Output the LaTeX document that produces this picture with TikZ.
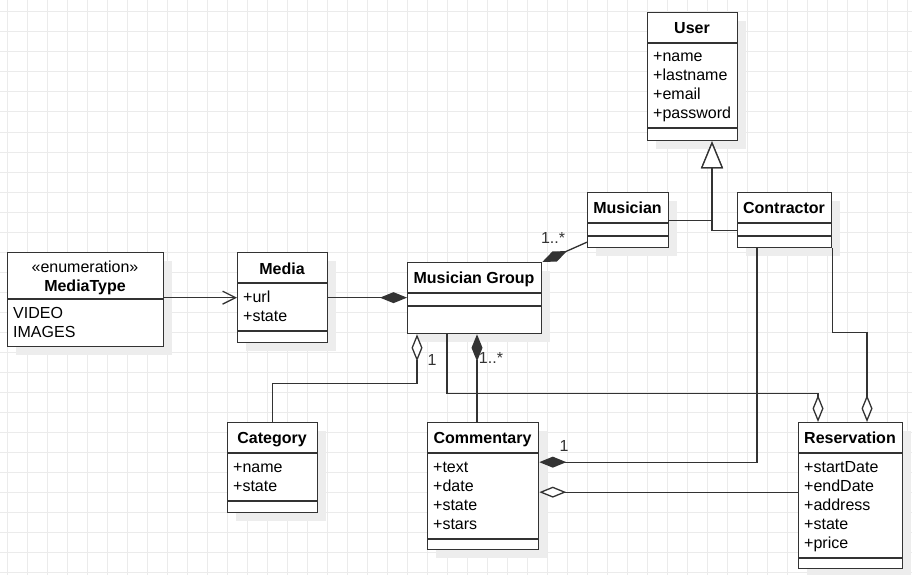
\documentclass[tikz,border=0pt]{standalone}
\usepackage{fontspec}
\setmainfont{Liberation Sans}
\usepackage{tikz}
\usetikzlibrary{arrows.meta,shadows}
\definecolor{umlline}{HTML}{333333}
\newcommand\umlfont{\fontsize{16}{19}\selectfont}

\begin{document}
\begin{tikzpicture}[x=1pt,y=-1pt,font=\umlfont,
  gridline/.style={black!8,line width=1pt},
  cls/.style={draw=umlline,fill=white,line width=1.3pt,inner sep=0pt,anchor=north west,
    drop shadow={shadow xshift=8pt,shadow yshift=-8pt,fill=black!7,opacity=1}},
  sepline/.style={umlline,line width=1.3pt},
  title/.style={font=\umlfont\bfseries,text height=12pt,text depth=0pt,inner sep=0pt},
  attr/.style={anchor=west,text height=12pt,text depth=0pt,inner sep=0pt},
  lbl/.style={text=umlline,text height=12pt,text depth=0pt,inner sep=0pt},
  edge/.style={umlline,line width=1.3pt},
  dep/.style={edge,-{Straight Barb[length=13pt,width=13pt]}},
  comp/.style={edge,-{Diamond[length=27pt,width=11pt]}},
  compr/.style={edge,{Diamond[length=27pt,width=11pt]}-},
  agg/.style={edge,-{Diamond[length=27pt,width=11pt,fill=white]}},
  aggr/.style={edge,{Diamond[length=27pt,width=11pt,fill=white]}-},
  inh/.style={edge,-{Triangle[length=27pt,width=22pt,fill=white]}}]
 \useasboundingbox (0,0) rectangle (912,575);
 \fill[white] (0,0) rectangle (912,575);
 % grid
 \foreach \x in {7,27,...,907} \draw[gridline] (\x,0) -- (\x,575);
 \foreach \y in {12,32,...,572} \draw[gridline] (0,\y) -- (912,\y);

 % classes
 \node[cls,minimum width=90pt,minimum height=128pt] (user) at (647,12) {};
 \draw[sepline] (647,43) -- (737,43);
 \draw[sepline] (647,128) -- (737,128);
 \node[title] (user-t) at (692,27.5) {User};
 \foreach \t [count=\i] in {+name,+lastname,+email,+password}
   \node[attr] (user-\i) at (653,{37+19*\i}) {\t};

 \node[cls,minimum width=81pt,minimum height=55pt] (musician) at (587,192) {};
 \draw[sepline] (587,223) -- (668,223);
 \draw[sepline] (587,236) -- (668,236);
 \node[title] (musician-t) at (627.5,207.5) {Musician};

 \node[cls,minimum width=94pt,minimum height=55pt] (contractor) at (737,192) {};
 \draw[sepline] (737,223) -- (831,223);
 \draw[sepline] (737,236) -- (831,236);
 \node[title] (contractor-t) at (784,207.5) {Contractor};

 \node[cls,minimum width=156pt,minimum height=94pt] (mediatype) at (7,252) {};
 \draw[sepline] (7,299) -- (163,299);
 \node[lbl,text=black] (mediatype-s) at (85,266) {«enumeration»};
 \node[title] (mediatype-t) at (85,285) {MediaType};
 \node[attr] (mediatype-1) at (13,312) {VIDEO};
 \node[attr] (mediatype-2) at (13,331) {IMAGES};

 \node[cls,minimum width=90pt,minimum height=90pt] (media) at (237,252) {};
 \draw[sepline] (237,283) -- (327,283);
 \draw[sepline] (237,331) -- (327,331);
 \node[title] (media-t) at (282,268) {Media};
 \foreach \t [count=\i] in {+url,+state}
   \node[attr] (media-\i) at (243,{277+19*\i}) {\t};

 \node[cls,minimum width=134pt,minimum height=71pt] (mgroup) at (407,262) {};
 \draw[sepline] (407,293) -- (541,293);
 \draw[sepline] (407,306) -- (541,306);
 \node[title] (mgroup-t) at (474,277.5) {Musician Group};

 \node[cls,minimum width=90pt,minimum height=90pt] (category) at (227,422) {};
 \draw[sepline] (227,453) -- (317,453);
 \draw[sepline] (227,501) -- (317,501);
 \node[title] (category-t) at (272,437.5) {Category};
 \foreach \t [count=\i] in {+name,+state}
   \node[attr] (category-\i) at (233,{447+19*\i}) {\t};

 \node[cls,minimum width=111pt,minimum height=127pt] (commentary) at (427,422) {};
 \draw[sepline] (427,453) -- (538,453);
 \draw[sepline] (427,539) -- (538,539);
 \node[title] (commentary-t) at (482.5,437.5) {Commentary};
 \foreach \t [count=\i] in {+text,+date,+state,+stars}
   \node[attr] (commentary-\i) at (433,{447+19*\i}) {\t};

 \node[cls,minimum width=104pt,minimum height=146pt] (reservation) at (798,422) {};
 \draw[sepline] (798,453) -- (902,453);
 \draw[sepline] (798,558) -- (902,558);
 \node[title] (reservation-t) at (850,437.5) {Reservation};
 \foreach \t [count=\i] in {+startDate,+endDate,+address,+state,+price}
   \node[attr] (reservation-\i) at (804,{447+19*\i}) {\t};

 % attach points
 \coordinate (mgCat) at ([xshift=10pt]mgroup.south west);
 \coordinate (mgRes) at ([xshift=40pt]mgroup.south west);
 \coordinate (mgCom) at ([xshift=70pt]mgroup.south west);
 \coordinate (conCom) at ([xshift=20pt]contractor.south west);
 \coordinate (resL) at ([xshift=20pt]reservation.north west);
 \coordinate (resR) at ([xshift=69pt]reservation.north west);
 \coordinate (comA) at ([yshift=24pt]commentary.east);
 \coordinate (comB) at ([yshift=-6pt]commentary.east);
 \coordinate (userT) at ([xshift=65pt]user.south west);

 % relations
 \draw[dep] (mediatype.east |- media.west) -- (media.west);
 \draw[comp] (media.east) -- (mgroup.west |- media.east);
 \draw[compr] (mgroup.north east) -- ([yshift=-22pt]musician.west);
 \draw[aggr] (mgCat) -- ++(0,49) -| (category.north);
 \draw[compr] (mgCom) -- (mgCom |- commentary.north);
 \draw[agg] (mgRes) -- ++(0,59) -| (resL);
 \draw[comp] (conCom) |- (comA);
 \draw[agg] (contractor.south east) -- ++(0,84) -| (resR);
 \draw[agg] (reservation.west |- comB) -- (comB);
 \draw[inh] (musician.east) -| (userT);
 \draw[inh] ([yshift=-10pt]contractor.west) -| (userT);

 % multiplicities
 \node[lbl] (mult1) at (553,237) {1..*};
 \node[lbl] (mult2) at (432,359) {1};
 \node[lbl] (mult3) at (491,357) {1..*};
 \node[lbl] (mult4) at (564,445) {1};
\end{tikzpicture}
\end{document}
